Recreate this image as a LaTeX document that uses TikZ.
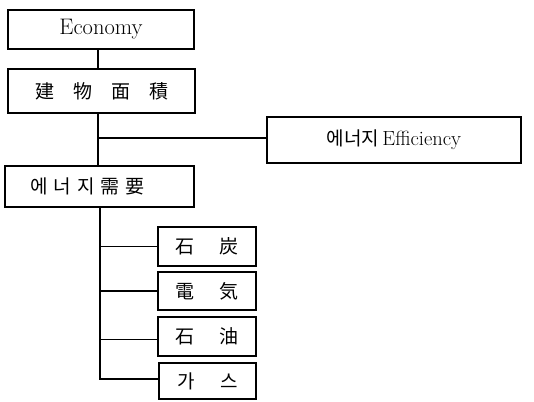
\documentclass[tikz,border=0pt]{standalone}
\usepackage{fontspec}
\newfontfamily\kr{Noto Sans CJK KR}
\begin{document}
\begin{tikzpicture}[x=1pt,y=-1pt,
  box/.style={draw,line width=1.6pt,inner sep=0pt,font=\fontsize{19}{21}\selectfont\kr},
  link/.style={line width=1.6pt}]
\useasboundingbox[fill=white] (0,0) rectangle (534,401);
\node[box,minimum width=186pt,minimum height=39pt,font=\fontsize{22.5}{24}\selectfont] (eco) at (101,29.5) {Economy};
\node[box,minimum width=187pt,minimum height=44pt] (bld) at (101.5,91) {建\hspace{19pt}物\hspace{19pt}面\hspace{19pt}積};
\node[box,minimum width=254pt,minimum height=46pt] (eff) at (394,140) {에너지\,{\fontspec{Latin Modern Roman}\fontsize{20.5}{22}\selectfont Efficiency}};
\node[box,minimum width=189pt,minimum height=41pt] (dem) at (99.5,186.5) {에\hspace{6pt}너\hspace{6pt}지\hspace{6pt}需\hspace{6pt}要\hspace*{24pt}};
\node[box,minimum width=98pt,minimum height=39pt] (coal) at (207,246.5) {石\hspace{26pt}炭};
\node[box,minimum width=98pt,minimum height=38pt] (elec) at (207,291) {電\hspace{26pt}気};
\node[box,minimum width=98pt,minimum height=39pt] (oil) at (207,336.5) {石\hspace{26pt}油};
\node[box,minimum width=97pt,minimum height=36pt] (gas) at (207.5,381) {가\hspace{26pt}스};
\coordinate (t0) at (98,0);
\coordinate (t1) at (98,138);
\coordinate (t2) at (100,379);
\draw[link] (eco.south -| t0) -- (bld.north -| t0);
\draw[link] (bld.south -| t1) -- (dem.north -| t1);
\draw[link] (t1) -- (t1 -| eff.west);
\draw[link] (dem.south -| t2) -- (t2) -- (t2 -| gas.west);
\draw[link] (coal.west -| t2) -- (coal.west);
\draw[link] (elec.west -| t2) -- (elec.west);
\draw[link] ([yshift=-3pt]oil.west -| t2) -- ([yshift=-3pt]oil.west);
\end{tikzpicture}
\end{document}
